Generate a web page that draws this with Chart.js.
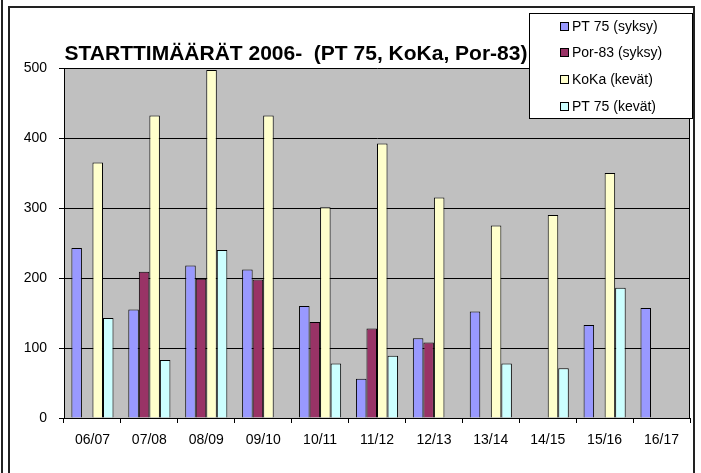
<!DOCTYPE html>
<html>
<head>
<meta charset="utf-8">
<script src="https://cdn.jsdelivr.net/npm/chart.js@4/dist/chart.umd.min.js"></script>
<style>
  html, body { margin: 0; padding: 0; background: #fff; }
  #c { display: block; }
</style>
</head>
<body>
<canvas id="c" width="701" height="473"></canvas>
<script>
const categories = ['06/07','07/08','08/09','09/10','10/11','11/12','12/13','13/14','14/15','15/16','16/17'];
const pt75Syksy  = [243, 155, 218, 212, 160, 56, 114, 152, null, 133, 157];
const por83Syksy = [null, 209, 199, 198, 137, 128, 108, null, null, null, null];
const kokaKevat  = [365, 432, 497, 432, 301, 392, 315, 275, 290, 350, null];
const pt75Kevat  = [143, 83, 240, null, 78, 89, null, 78, 71, 186, null];
const seriesNames = ['PT 75 (syksy)', 'Por-83 (syksy)', 'KoKa (kevät)', 'PT 75 (kevät)'];
const yTicks = [0, 100, 200, 300, 400, 500];
const titleText = 'STARTTIMÄÄRÄT 2006-  (PT 75, KoKa, Por-83)';

const colors = ['#9999FF', '#993366', '#FFFFCC', '#CCFFFF'];
const FONT = '"Liberation Sans", Arial, sans-serif';

const decor = {
  id: 'decor',
  beforeDraw(chart) {
    const ctx = chart.ctx, a = chart.chartArea;
    ctx.save();
    ctx.fillStyle = '#fff';
    ctx.fillRect(0, 0, chart.width, chart.height);
    ctx.fillStyle = '#C0C0C0';
    ctx.fillRect(a.left, a.top, a.right - a.left, a.bottom - a.top);
    ctx.restore();
  },
  afterDraw(chart) {
    const ctx = chart.ctx, a = chart.chartArea;
    ctx.save();
    // plot right border
    ctx.strokeStyle = '#000';
    ctx.lineWidth = 1;
    ctx.beginPath();
    ctx.moveTo(Math.round(a.right) - 0.5, a.top);
    ctx.lineTo(Math.round(a.right) - 0.5, a.bottom);
    ctx.stroke();
    // outer frame
    ctx.strokeStyle = '#222';
    ctx.lineWidth = 2;
    ctx.beginPath();
    ctx.moveTo(2, 0); ctx.lineTo(2, chart.height);
    ctx.moveTo(9, chart.height); ctx.lineTo(9, 7); ctx.lineTo(694, 7); ctx.lineTo(694, chart.height);
    ctx.stroke();
    // title
    ctx.fillStyle = '#000';
    ctx.font = 'bold 21px ' + FONT;
    ctx.textAlign = 'center';
    ctx.textBaseline = 'alphabetic';
    ctx.fillText(titleText, 296, 60);
    // legend
    const lx = 529, ly = 13, lw = 163, lh = 105;
    ctx.fillStyle = '#fff';
    ctx.fillRect(lx, ly, lw, lh);
    ctx.strokeStyle = '#000';
    ctx.lineWidth = 1;
    ctx.strokeRect(lx + 0.5, ly + 0.5, lw, lh);
    ctx.font = '14px ' + FONT;
    ctx.textAlign = 'left';
    ctx.textBaseline = 'middle';
    const rows = [27, 53, 80, 107];
    chart.data.datasets.forEach((ds, i) => {
      const cy = rows[i];
      ctx.fillStyle = ds.backgroundColor;
      ctx.fillRect(560, cy - 5, 9, 9);
      ctx.strokeStyle = '#000';
      ctx.strokeRect(560.5, cy - 4.5, 8, 8);
      ctx.fillStyle = '#000';
      ctx.fillText(ds.label, 572, cy);
    });
    ctx.restore();
  }
};

const mk = (i, data) => ({
  label: seriesNames[i],
  data: data,
  backgroundColor: colors[i],
  borderColor: '#000',
  borderWidth: 1,
  categoryPercentage: 0.74,
  barPercentage: 1.0
});

new Chart(document.getElementById('c'), {
  type: 'bar',
  data: {
    labels: categories,
    datasets: [mk(0, pt75Syksy), mk(1, por83Syksy), mk(2, kokaKevat), mk(3, pt75Kevat)]
  },
  options: {
    responsive: false,
    animation: false,
    devicePixelRatio: 1,
    layout: { padding: { left: 0, top: 68, right: 11, bottom: 0 } },
    plugins: { legend: { display: false }, title: { display: false }, tooltip: { enabled: false } },
    scales: {
      x: {
        afterFit(s) { s.height = 55; },
        grid: { drawOnChartArea: false, drawTicks: true, tickLength: 5, offset: true, color: '#000' },
        border: { display: true, color: '#000' },
        ticks: { color: '#000', font: { family: FONT, size: 14 }, padding: 9, maxRotation: 0, autoSkip: false }
      },
      y: {
        min: 0, max: 500,
        afterFit(s) { s.width = 64; },
        afterBuildTicks(s) { s.ticks = yTicks.map(v => ({ value: v })); },
        grid: { color: '#000', tickLength: 5, drawTicks: true },
        border: { display: true, color: '#000' },
        ticks: { color: '#000', font: { family: FONT, size: 14 }, padding: 12 }
      }
    }
  },
  plugins: [decor]
});
</script>
</body>
</html>
